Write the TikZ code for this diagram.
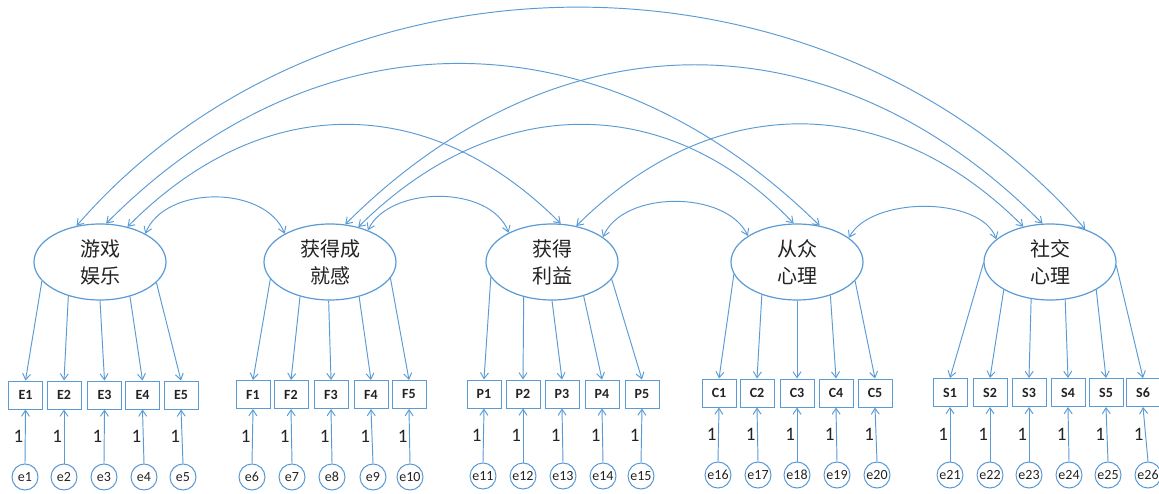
\documentclass[tikz,border=0pt]{standalone}
\usepackage{fontspec}
\setmainfont{Carlito}
\newfontfamily\cjk{Noto Sans CJK SC}
\usetikzlibrary{arrows.meta,shapes.geometric}
\definecolor{lineblue}{RGB}{91,155,213}
\definecolor{txt}{RGB}{35,35,35}
\begin{document}
\begin{tikzpicture}[x=1pt,y=-1pt,
  lat/.style={ellipse, draw=lineblue, line width=1.2pt, minimum width=132pt, minimum height=76pt, inner sep=0pt, font=\cjk\fontsize{20}{27}\selectfont, align=center, text=txt},
  obs/.style={draw=lineblue, line width=1pt, minimum width=34pt, minimum height=28pt, inner sep=0pt, font=\bfseries\fontsize{14}{14}\selectfont, text=txt},
  err/.style={circle, draw=lineblue, line width=1pt, minimum size=26pt, inner sep=0pt, font=\fontsize{14}{14}\selectfont, text=txt},
  load/.style={draw=lineblue, line width=0.95pt, -{Straight Barb[length=6pt,width=8pt]}},
  cov/.style={draw=lineblue, line width=0.95pt, {Straight Barb[length=6pt,width=8pt]}-{Straight Barb[length=6pt,width=8pt]}},
  one/.style={left, font=\fontsize{19}{19}\selectfont, inner sep=1.5pt, text=txt}
]
\useasboundingbox[fill=white] (0,0) rectangle (1159,494);

% latent variables
\node[lat] (G) at (100,262) {游戏\\娱乐};
\node[lat] (A) at (330,262) {获得成\\就感};
\node[lat] (B) at (552,262) {获得\\利益};
\node[lat] (C) at (797,262) {从众\\心理};
\node[lat] (S) at (1050,262) {社交\\心理};

% indicators and errors
\foreach \bx/\ex/\n [count=\i] in {25.5/25/1, 64/64/2, 104.5/104/3, 142.5/144/4, 181/183/5} {
  \node[obs] (E\i) at (\bx,395) {E\i};
  \node[err] (eE\i) at (\ex,477) {e\n};
}
\foreach \bx/\ex/\n [count=\i] in {253/252/6, 291/292/7, 331/332/8, 371/373/9, 409/410/10} {
  \node[obs] (F\i) at (\bx,394.5) {F\i};
  \node[err] (eF\i) at (\ex,477) {e\n};
}
\foreach \bx/\ex/\n [count=\i] in {484/483/11, 523/523/12, 562/563/13, 602/603/14, 642/641/15} {
  \node[obs] (P\i) at (\bx,394) {P\i};
  \node[err] (eP\i) at (\ex,476) {e\n};
}
\foreach \bx/\ex/\n [count=\i] in {719/718/16, 757/758/17, 797/797/18, 836/837/19, 875/877/20} {
  \node[obs] (C\i) at (\bx,393) {C\i};
  \node[err] (eC\i) at (\ex,475) {e\n};
}
\foreach \bx/\ex/\n [count=\i] in {950/950/21, 990/990/22, 1029/1029/23, 1068/1069/24, 1106/1108/25, 1143/1148/26} {
  \node[obs] (S\i) at (\bx,392.5) {S\i};
  \node[err] (eS\i) at (\ex,475) {e\n};
}

% loadings
\foreach \a [count=\i] in {198,227,270,311,340} \draw[load] (G.\a) -- (E\i.north);
\foreach \a [count=\i] in {196,229,268,310,345} \draw[load] (A.\a) -- (F\i.north);
\foreach \a [count=\i] in {194,231,270,313,344} \draw[load] (B.\a) -- (P\i.north);
\foreach \a [count=\i] in {191,223,270,315,342} \draw[load] (C.\a) -- (C\i.north);
\foreach \a [count=\i] in {181,211,243,292,329,357} \draw[load] (S.\a) -- (S\i.north);

% error paths
\foreach \g in {E,F,P,C} {
  \foreach \i in {1,...,5} \draw[load] (e\g\i.north) -- node[one]{1} (\g\i.south);
}
\foreach \i in {1,...,6} \draw[load] (eS\i.north) -- node[one]{1} (S\i.south);

% covariances
\draw[cov] (G.123) .. controls (330,-66) and (829,-66) .. (S.43);
\draw[cov] (G.81) .. controls (318,10) and (600,10) .. (C.58);
\draw[cov] (G.52) .. controls (262,91) and (429,91) .. (B.77);
\draw[cov] (G.32) .. controls (165,185) and (265,185) .. (A.148);
\draw[cov] (A.68) .. controls (558,12) and (832,12) .. (S.101);
\draw[cov] (A.51) .. controls (495,91) and (668,91) .. (C.95);
\draw[cov] (A.40) .. controls (390,185) and (491,185) .. (B.146);
\draw[cov] (B.56) .. controls (713,90) and (887,90) .. (S.127);
\draw[cov] (B.26) .. controls (623,190) and (726,190) .. (C.152);
\draw[cov] (C.25) .. controls (871,196) and (981,196) .. (S.157);
\end{tikzpicture}
\end{document}
